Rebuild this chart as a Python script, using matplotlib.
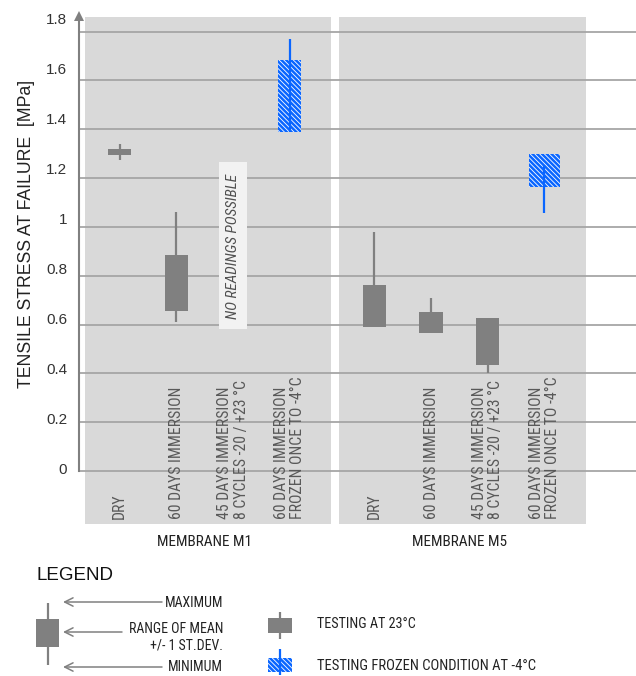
import numpy as np
import matplotlib
matplotlib.use("Agg")
import matplotlib.pyplot as plt
from matplotlib.patches import Rectangle

# ---------------- data ----------------
membranes = ["MEMBRANE M1", "MEMBRANE M5"]
conditions = ["DRY",
              "60 DAYS IMMERSION",
              "45 DAYS IMMERSION\n8 CYCLES -20 / +23 °C",
              "60 DAYS IMMERSION\nFROZEN ONCE TO -4°C"]
frozen_test = [False, False, False, True]

m1_max   = [1.34, 1.06, np.nan, 1.77]
m1_upper = [1.32, 0.885, np.nan, 1.685]
m1_lower = [1.295, 0.655, np.nan, 1.39]
m1_min   = [1.275, 0.61, np.nan, 1.39]

m5_max   = [0.98, 0.71, 0.626, 1.255]
m5_upper = [0.76, 0.65, 0.626, 1.30]
m5_lower = [0.59, 0.565, 0.435, 1.165]
m5_min   = [0.59, 0.565, 0.40, 1.055]

no_reading_note = "NO READINGS POSSIBLE"
y_tick_values = [0, 0.2, 0.4, 0.6, 0.8, 1.0, 1.2, 1.4, 1.6, 1.8]
y_tick_labels = ["0", "0.2", "0.4", "0.6", "0.8", "1", "1.2", "1.4", "1.6", "1.8"]
y_label = "TENSILE STRESS AT FAILURE  [MPa]"
legend_title = "LEGEND"
legend_parts = ["MAXIMUM", "RANGE OF MEAN", "+/- 1 ST.DEV.", "MINIMUM"]
legend_series = ["TESTING AT 23°C", "TESTING FROZEN CONDITION AT -4°C"]

# ---------------- styles ----------------
NARROW = ["Roboto Condensed", "Archivo Narrow", "DejaVu Sans"]
REG = ["Liberation Sans", "DejaVu Sans"]
plt.rcParams["font.family"] = REG
plt.rcParams["hatch.linewidth"] = 0.6
HATCH = "\\" * 7

GRAY = "#808080"
BLUE = "#0a66ff"
PANEL = "#d9d9d9"
GRID = "#a6a6a6"
CAT_COLOR = "#595959"
TXT = "#222222"

W, H = 636, 676
fig = plt.figure(figsize=(W / 100, H / 100), dpi=100)

# axes: pixel frame from x=79..636, y=13..524
ax = fig.add_axes([79 / W, 1 - 524 / H, (W - 79) / W, 511 / H])
ymin, ymax = -0.217, 1.876
ax.set_ylim(ymin, ymax)
ax.set_xlim(-0.719, 9.12)
for s in ax.spines.values():
    s.set_visible(False)
ax.set_xticks([])
ax.patch.set_alpha(0)

group_offsets = [0.0, 4.5]
pad_left, pad_right = 0.62, 0.74
series = {
    "MEMBRANE M1": (m1_max, m1_upper, m1_lower, m1_min),
    "MEMBRANE M5": (m5_max, m5_upper, m5_lower, m5_min),
}
box_widths = {"MEMBRANE M1": [0.41, 0.41, 0.41, 0.41],
              "MEMBRANE M5": [0.41, 0.41, 0.41, 0.55]}

# panels
for g, name in zip(group_offsets, membranes):
    ax.add_patch(Rectangle((g - pad_left, ymin), len(conditions) - 1 + pad_left + pad_right,
                           1.860 - ymin, fc=PANEL, ec="none", zorder=0))
    ax.text(g + (len(conditions) - 1) / 2, -0.291, name, ha="center", va="center",
            fontsize=11, family=NARROW, color=TXT, clip_on=False)

# grid lines
for v in y_tick_values:
    ax.axhline(v, color=GRID, lw=1.3, zorder=1)

# y ticks (labels sit slightly above the lines, as in the reference)
ax.set_yticks([v * 1.0234 + 0.011 for v in y_tick_values])
ax.set_yticklabels(y_tick_labels, fontsize=11, color="#333333")
ax.tick_params(axis="y", length=0, pad=8.6)

# y axis with arrow
x0 = ax.get_xlim()[0]
ax.plot([x0, x0], [0, 1.85], color=GRAY, lw=1.5, clip_on=False, zorder=3)
ax.plot([x0], [1.862], marker="^", ms=7, color=GRAY, clip_on=False, zorder=3, mew=0)

# boxes
for g, name in zip(group_offsets, membranes):
    mx, up, lo, mn = series[name]
    for i, cond in enumerate(conditions):
        x = g + i
        ax.text(x, -0.197, cond, rotation=90, ha="center", va="bottom",
                multialignment="left", fontsize=11.3, family=NARROW,
                color=CAT_COLOR, linespacing=1.12)
        if np.isnan(up[i]):
            ax.add_patch(Rectangle((x - 0.24, 0.582), 0.48, 1.266 - 0.582,
                                   fc="#f2f2f2", ec="none", zorder=2))
            ax.text(x, 0.92, no_reading_note, rotation=90, ha="center", va="center",
                    fontsize=11, family=NARROW, style="italic", color="#505050", zorder=3)
            continue
        w = box_widths[name][i]
        if frozen_test[i]:
            ax.add_patch(Rectangle((x - w / 2, lo[i]), w, up[i] - lo[i], fc=BLUE,
                                   ec="white", lw=0, hatch=HATCH, zorder=3))
            ax.plot([x, x], [mn[i], mx[i]], color=BLUE, lw=1.6, zorder=4,
                    solid_capstyle="butt")
        else:
            ax.plot([x, x], [mn[i], mx[i]], color=GRAY, lw=1.6, zorder=3,
                    solid_capstyle="butt")
            ax.add_patch(Rectangle((x - w / 2, lo[i]), w, up[i] - lo[i], fc=GRAY,
                                   ec="none", zorder=3))

# ---------------- overlay in pixel coords: y label + legend ----------------
ov = fig.add_axes([0, 0, 1, 1], zorder=5)
ov.set_xlim(0, W)
ov.set_ylim(H, 0)
ov.axis("off")
ov.patch.set_alpha(0)

ov.text(27, 234, y_label, rotation=90, ha="center", va="center", fontsize=12.7, color=TXT)
ov.text(37, 575, legend_title, ha="left", va="center", fontsize=13.5, color="#111111")

# legend symbol (explanation)
ov.plot([48, 48], [603, 665], color=GRAY, lw=1.6, solid_capstyle="butt")
ov.add_patch(Rectangle((36, 619), 23, 28, fc=GRAY, ec="none"))
arrow = dict(arrowstyle="->,head_length=0.6,head_width=0.3", color=GRAY, lw=1.1,
             shrinkA=0, shrinkB=0)
for yy, x_end in [(602, 162), (632, 122), (667, 162)]:
    ov.annotate("", xy=(63, yy), xytext=(x_end, yy), arrowprops=arrow)
for txt, yy in zip(legend_parts, [603, 629, 645, 667]):
    ov.text(223, yy, txt, ha="right", va="center", fontsize=10, family=NARROW, color=TXT)

# legend series
ov.plot([280, 280], [612, 639], color=GRAY, lw=1.6, solid_capstyle="butt")
ov.add_patch(Rectangle((268, 618), 24, 15, fc=GRAY, ec="none"))
ov.add_patch(Rectangle((268, 658), 24, 14, fc=BLUE, ec="white", lw=0, hatch=HATCH))
ov.plot([280, 280], [649, 675], color=BLUE, lw=1.6, solid_capstyle="butt")
ov.text(317, 624, legend_series[0], ha="left", va="center", fontsize=10.2, family=NARROW, color=TXT)
ov.text(317, 666, legend_series[1], ha="left", va="center", fontsize=10.5, family=NARROW, color=TXT)

fig.savefig("out.png", dpi=100)
